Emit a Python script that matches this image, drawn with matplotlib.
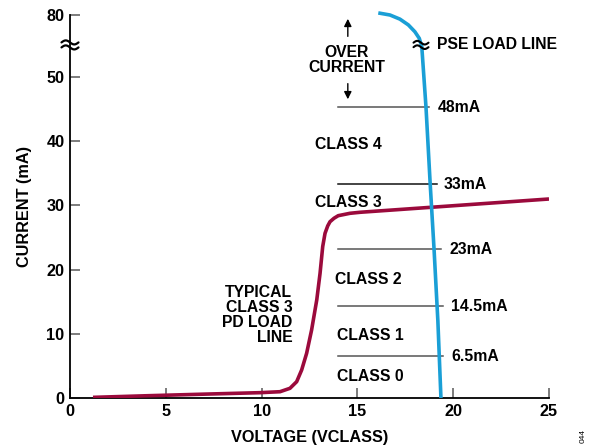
import matplotlib
matplotlib.use("Agg")
import matplotlib.pyplot as plt
from matplotlib.lines import Line2D
from matplotlib.transforms import IdentityTransform
import numpy as np

plt.rcParams['font.family'] = ['Liberation Sans', 'DejaVu Sans']
plt.rcParams['font.weight'] = 'bold'

# Y axis is broken between 50 and 80 mA
BREAK = 50.0
TOP_DATA = 80.0
TOP_PLOT = 59.66

def ymap(v):
    v = np.asarray(v, dtype=float)
    return np.where(v <= BREAK, v, BREAK + (v - BREAK) * (TOP_PLOT - BREAK) / (TOP_DATA - BREAK))

# Data
x_ticks = [0, 5, 10, 15, 20, 25]
y_tick_values = [0, 10, 20, 30, 40, 50, 80]
y_tick_labels = ["0", "10", "20", "30", "40", "50", "80"]

pd_v = [1.2, 4.0, 7.0, 9.92, 10.96, 11.48, 11.83, 12.09, 12.35, 12.61, 12.88, 13.05,
        13.19, 13.31, 13.45, 13.57, 13.78, 14.0, 14.61, 15.14, 20.0, 25.0]
pd_i = [0.1, 0.35, 0.6, 0.83, 0.98, 1.51, 2.54, 4.36, 6.96, 10.6, 15.3, 19.4,
        23.6, 25.65, 26.8, 27.46, 28.0, 28.4, 28.77, 28.93, 29.95, 31.0]

pse_v = [16.09, 16.70, 17.22, 17.66, 18.0, 18.23, 18.36, 18.58, 18.8, 19.0, 19.2, 19.36]
pse_i = [81.0, 80.0, 78.0, 75.2, 71.9, 68.7, 64.7, 45.3, 33.3, 23.2, 12.0, 0.0]

thr_pos = [6.5, 14.3, 23.2, 33.3, 45.3]
thr_labels = ["6.5mA", "14.5mA", "23mA", "33mA", "48mA"]
thr_end = [19.47, 19.47, 19.36, 19.15, 18.74]
thr_text_x = [19.9, 19.9, 19.8, 19.5, 19.2]
thr_colors = ["#555555", "#555555", "#555555", "#111111", "#555555"]

class_labels = ["CLASS 0", "CLASS 1", "CLASS 2", "CLASS 3", "CLASS 4"]
class_x = [13.95, 13.95, 13.85, 12.8, 12.8]
class_y = [3.3, 9.8, 18.5, 30.4, 39.5]

RED = "#9B0A3C"
BLUE = "#1A9FD6"

fig = plt.figure(figsize=(5.96, 4.48), dpi=100)
ax = fig.add_axes([70/596, 50/448, (549-70)/596, (398-15)/448])

ax.plot(pd_v, ymap(pd_i), color=RED, lw=2.6, solid_capstyle='butt',
        solid_joinstyle='round', zorder=3)
ax.plot(pse_v, ymap(pse_i), color=BLUE, lw=2.6, solid_capstyle='butt',
        solid_joinstyle='round', zorder=3, clip_on=False)

for y, lab, xe, xt, c in zip(thr_pos, thr_labels, thr_end, thr_text_x, thr_colors):
    ax.plot([14.0, xe], [y, y], color=c, lw=1.1, zorder=2)
    ax.text(xt, y, lab, fontsize=11.3, fontweight='bold', va='center', ha='left')

for lab, x, y in zip(class_labels, class_x, class_y):
    ax.text(x, y, lab, fontsize=11.3, fontweight='bold', va='center', ha='left')

ax.text(11.6, 12.9, "TYPICAL\nCLASS 3\nPD LOAD\nLINE", fontsize=11.3, fontweight='bold',
        ha='right', va='center', linespacing=1.0)

ax.text(14.45, 52.6, "OVER\nCURRENT", fontsize=11.3, fontweight='bold', ha='center',
        va='center', linespacing=1.0)
ax.annotate("", xy=(14.5, ymap(79.5)), xytext=(14.5, 55.9),
            arrowprops=dict(arrowstyle='-|>', color='black', lw=1.0, mutation_scale=11))
ax.annotate("", xy=(14.5, 46.1), xytext=(14.5, 49.4),
            arrowprops=dict(arrowstyle='-|>', color='black', lw=1.0, mutation_scale=11))

ax.text(19.15, 55.0, "PSE LOAD LINE", fontsize=11.3, fontweight='bold', ha='left', va='center')

ax.set_xlim(0, 25)
ax.set_ylim(0, TOP_PLOT)


def squiggle(xd, yd, width, amp, gap, lw):
    """Draw a break mark (two wavy strokes) centred on a data point, sized in pixels."""
    cx, cy = ax.transData.transform((xd, yd))
    t = np.linspace(-1, 1, 60)
    for dy in (gap / 2, -gap / 2):
        xs = cx + width / 2 * t
        ys = cy + dy - amp * np.sin(np.pi * t)
        fig.add_artist(Line2D(xs, ys, transform=IdentityTransform(), color='black',
                              lw=lw, solid_capstyle='round', zorder=10))


squiggle(0, 55.0, 17, 2.0, 5.0, 1.6)
squiggle(18.32, 55.0, 15, 1.8, 4.5, 1.5)

ax.set_xticks(x_ticks)
ax.set_xticklabels([str(t) for t in x_ticks], fontsize=11.7, fontweight='bold')
ax.set_yticks(ymap(y_tick_values))
ax.set_yticklabels(y_tick_labels, fontsize=11.7, fontweight='bold')
ax.tick_params(direction='in', length=7, width=1.2, color='#666666', pad=4)
ax.spines['top'].set_visible(False)
ax.spines['right'].set_visible(False)
ax.spines['left'].set_linewidth(1.3)
ax.spines['bottom'].set_linewidth(1.3)

ax.set_xlabel("VOLTAGE (VCLASS)", fontsize=11.7, fontweight='bold', labelpad=8)
ax.set_ylabel("CURRENT (mA)", fontsize=11.7, fontweight='bold', labelpad=10)

fig.text(583/596, 1 - 436/448, "044", fontsize=6, rotation=90, ha='center', va='center',
         fontweight='normal')

fig.savefig("out.png", dpi=100)
